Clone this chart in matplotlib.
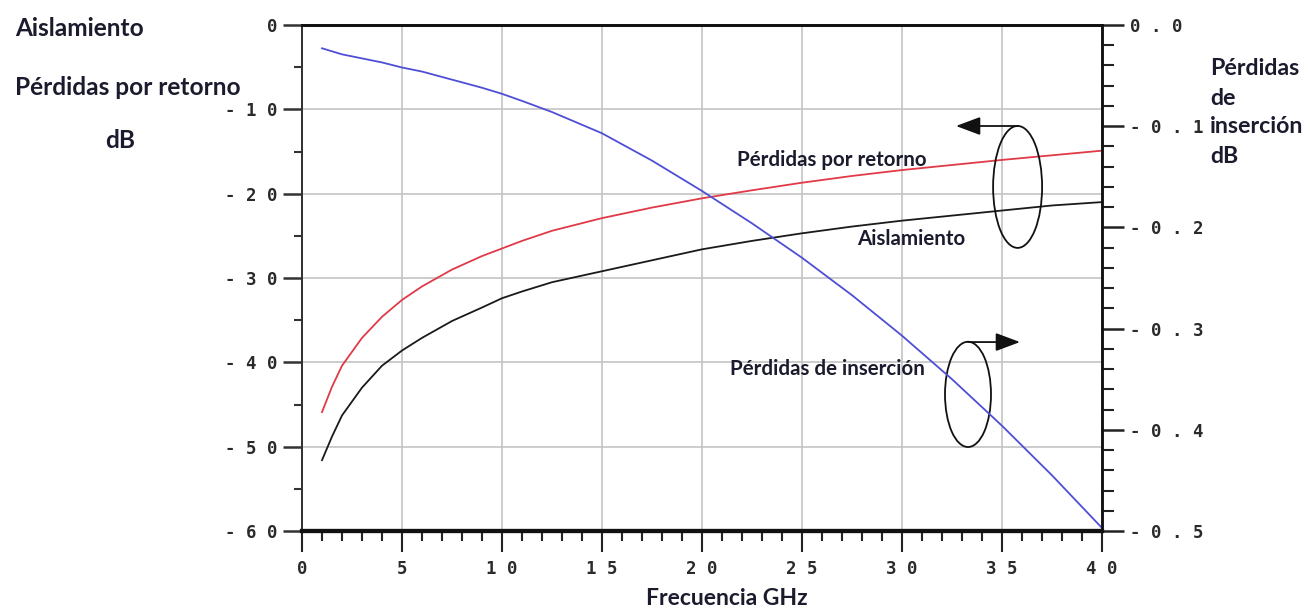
import matplotlib
matplotlib.use("Agg")
import matplotlib.pyplot as plt
from matplotlib.patches import Ellipse
from matplotlib.ticker import FixedLocator, MultipleLocator

# ---------------- data ----------------
freq_ghz = [1, 1.5, 2, 3, 4, 5, 6, 7.5, 9, 10, 11, 12.5, 15, 17.5, 20, 22.5, 25, 27.5,
            30, 32.5, 35, 37.5, 40]
return_loss_db = [-45.9, -42.9, -40.4, -37.1, -34.6, -32.6, -31.0, -29.0, -27.4, -26.5, -25.6,
                  -24.4, -22.9, -21.65, -20.55, -19.6, -18.7, -17.9, -17.2, -16.6, -16.0, -15.45, -14.9]
isolation_db = [-51.6, -48.8, -46.3, -43.0, -40.4, -38.6, -37.1, -35.1, -33.5, -32.4, -31.6,
                -30.5, -29.2, -27.9, -26.6, -25.6, -24.7, -23.9, -23.2, -22.6, -22.0, -21.4, -21.0]
insertion_loss_db = [-0.023, -0.026, -0.029, -0.033, -0.037, -0.042, -0.046, -0.054, -0.062,
                     -0.068, -0.075, -0.086, -0.107, -0.134, -0.164, -0.196, -0.230, -0.267,
                     -0.307, -0.350, -0.396, -0.445, -0.497]

x_ticks = [0, 5, 10, 15, 20, 25, 30, 35, 40]
x_tick_labels = ["0", "5", "1 0", "1 5", "2 0", "2 5", "3 0", "3 5", "4 0"]
left_ticks = [0, -10, -20, -30, -40, -50, -60]
left_tick_labels = ["0", "- 1 0", "- 2 0", "- 3 0", "- 4 0", "- 5 0", "- 6 0"]
right_ticks = [0.0, -0.1, -0.2, -0.3, -0.4, -0.5]
right_tick_labels = ["0 . 0", "- 0 . 1", "- 0 . 2", "- 0 . 3", "- 0 . 4", "- 0 . 5"]

# ---------------- figure ----------------
W, H = 1310, 608
fig = plt.figure(figsize=(W / 100, H / 100), dpi=100)
fig.patch.set_facecolor("white")

x0, x1, y0, y1 = 302, 1102, 25, 531
ax = fig.add_axes([x0 / W, 1 - y1 / H, (x1 - x0) / W, (y1 - y0) / H])
ax2 = ax.twinx()

ax.set_xlim(0, 40)
ax.set_ylim(-60, 0)
ax2.set_ylim(-0.5, 0)

tick_font = dict(family="DejaVu Sans Mono", weight="bold", size=12.5, color="#2a2a2a")

ax.xaxis.set_major_locator(FixedLocator(x_ticks))
ax.set_xticklabels(x_tick_labels, **tick_font)
ax.xaxis.set_minor_locator(MultipleLocator(1))
ax.yaxis.set_major_locator(FixedLocator(left_ticks))
ax.set_yticklabels(left_tick_labels, **tick_font)
ax.yaxis.set_minor_locator(MultipleLocator(5))
ax2.yaxis.set_major_locator(FixedLocator(right_ticks))
ax2.set_yticklabels(right_tick_labels, **tick_font)
ax2.yaxis.set_minor_locator(MultipleLocator(0.02))

ax.tick_params(axis="x", which="major", direction="out", length=15, width=1.5, pad=6, color="#222222")
ax.tick_params(axis="x", which="minor", direction="out", length=7, width=1.5, color="#222222")
ax.tick_params(axis="y", which="major", direction="out", length=14, width=1.8, pad=3.5, color="#333333")
ax.tick_params(axis="y", which="minor", direction="out", length=6, width=1.5, color="#333333")
ax2.tick_params(axis="y", which="major", direction="out", length=15.5, width=1.8, pad=4.5, color="#222222")
ax2.tick_params(axis="y", which="minor", direction="out", length=8.5, width=1.5, color="#222222")

ax.grid(True, which="major", color="#c4c4c4", linewidth=1.2)
ax.set_axisbelow(True)

for a in (ax, ax2):
    a.spines["top"].set_linewidth(2.0)
    a.spines["top"].set_color("#111111")
    a.spines["bottom"].set_linewidth(3.0)
    a.spines["bottom"].set_color("#111111")
    a.spines["right"].set_linewidth(1.8)
    a.spines["right"].set_color("#111111")
    a.spines["left"].set_linewidth(1.3)
    a.spines["left"].set_color("#333333")

ax.plot(freq_ghz, return_loss_db, color="#e03a48", linewidth=1.3)
ax.plot(freq_ghz, isolation_db, color="#1a1a1a", linewidth=1.3)
ax2.plot(freq_ghz, insertion_loss_db, color="#4e4ed6", linewidth=1.3)

# ellipses and arrows (annotation graphics)
ax2.add_patch(Ellipse((35.78, -0.16), 2.45, 0.1205, fill=False, edgecolor="#111111", linewidth=1.3))
ax2.add_patch(Ellipse((33.3, -0.365), 2.3, 0.104, fill=False, edgecolor="#111111", linewidth=1.3))
arrow = dict(arrowstyle="-|>,head_length=0.75,head_width=0.28", color="#111111", lw=1.3,
             shrinkA=0, shrinkB=0, mutation_scale=20)
ax2.annotate("", xy=(32.7, -0.0998), xytext=(35.8, -0.0998), arrowprops=arrow)
ax2.annotate("", xy=(35.9, -0.3133), xytext=(33.3, -0.3133), arrowprops=arrow)

# ---------------- text ----------------
renderer = fig.canvas.get_renderer()
txt_color = "#1b1b2e"
lab_font = dict(family=["Lato", "DejaVu Sans"], weight="bold", color=txt_color)


def fit_size(text, target_w, size=12):
    t = fig.text(0, 0, text, fontsize=size, **lab_font)
    w = t.get_window_extent(renderer).width
    t.remove()
    return size * target_w / w


def put(text, px, base_py, size, ha="left"):
    fig.text(px / W, 1 - base_py / H, text, fontsize=size, ha=ha, va="baseline", **lab_font)


s_left = fit_size("Pérdidas por retorno", 225)
put("Aislamiento", 15, 36, s_left)
put("Pérdidas por retorno", 15, 95, s_left)
put("dB", 105, 148, s_left)

s_right = fit_size("inserción", 93)
put("Pérdidas", 1210, 75, s_right)
put("de", 1210, 105, s_right)
put("inserción", 1210, 133, s_right)
put("dB", 1210, 163, s_right)

s_ann = fit_size("Pérdidas de inserción", 194)
put("Pérdidas por retorno", 737, 166, s_ann)
put("Aislamiento", 857, 245, s_ann)
put("Pérdidas de inserción", 730, 375, s_ann)

s_x = fit_size("Frecuencia GHz", 161)
put("Frecuencia GHz", 727, 605, s_x, ha="center")

fig.savefig("out.png", dpi=100, facecolor="white")
